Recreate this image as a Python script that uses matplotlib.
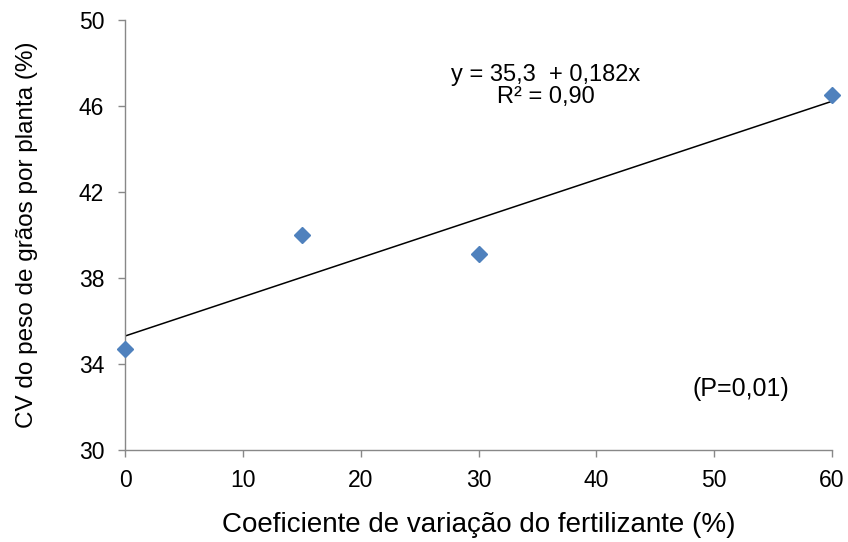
import matplotlib
matplotlib.use("Agg")
import matplotlib.pyplot as plt
import numpy as np

plt.rcParams['font.family'] = ['Liberation Sans', 'DejaVu Sans']

# Fertilizer CV (%) vs CV of grain weight per plant (%)
fert_cv = [0, 15, 30, 60]
grain_cv = [34.7, 40.0, 39.1, 46.5]

# Fitted linear regression
intercept = 35.3
slope = 0.182

x_ticks = [0, 10, 20, 30, 40, 50, 60]
y_ticks = [30, 34, 38, 42, 46, 50]

fig = plt.figure(figsize=(8.48, 5.42), dpi=100)
ax = fig.add_axes([125 / 848, 1 - 450 / 542, 707 / 848, 430 / 542])

xs = np.array([min(fert_cv), max(fert_cv)])
ax.plot(xs, intercept + slope * xs, color='black', lw=1.1, zorder=2)
ax.plot(fert_cv, grain_cv, linestyle='none', marker='D', ms=8.5,
        color='#4F81BD', markeredgecolor='#4F81BD', zorder=3, clip_on=False)

ax.set_xlim(0, 60)
ax.set_ylim(30, 50)
ax.set_xticks(x_ticks)
ax.set_yticks(y_ticks)

for side in ('top', 'right'):
    ax.spines[side].set_visible(False)
for side in ('left', 'bottom'):
    ax.spines[side].set_color('#888888')
    ax.spines[side].set_linewidth(1.0)
ax.tick_params(axis='both', direction='out', length=5, width=1.0,
               color='#888888', labelsize=16.5, labelcolor='black')
ax.tick_params(axis='x', pad=9)
ax.tick_params(axis='y', pad=10)

ax.set_xlabel('Coeficiente de variação do fertilizante (%)', fontsize=20)
ax.xaxis.set_label_coords(0.5, -(525 - 450) / 430, transform=ax.transAxes)
ax.set_ylabel('CV do peso de grãos por planta (%)', fontsize=17.5)
ax.yaxis.set_label_coords(-(125 - 27) / 707, 0.5, transform=ax.transAxes)
ax.xaxis.label.set_va('center')
ax.yaxis.label.set_va('center')

ax.text(35.7, 46.93, 'y = 35,3  + 0,182x\nR² = 0,90', fontsize=17,
        ha='center', va='center', multialignment='center', linespacing=0.98)
ax.text(52.3, 32.84, '(P=0,01)', fontsize=18, ha='center', va='center')

fig.savefig('out.png', dpi=100)
